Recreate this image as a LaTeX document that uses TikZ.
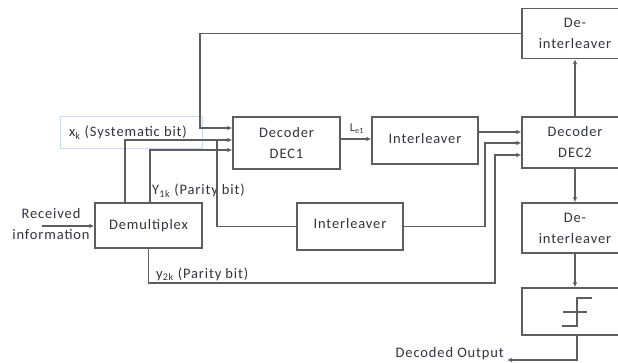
\documentclass[tikz,border=0pt]{standalone}
\usepackage{fontspec}
\setmainfont{Carlito}[LetterSpace=6]
\usetikzlibrary{arrows.meta,calc}
\definecolor{lc}{HTML}{5E5E5E}
\definecolor{tc}{HTML}{33333F}
\definecolor{sysc}{HTML}{C9DAF0}
\begin{document}
\begin{tikzpicture}[x=1pt,y=-1pt,
  box/.style={draw=lc, line width=1.3pt, minimum width=106pt, inner sep=0pt, align=center, text=tc, font=\fontsize{14.5}{21}\selectfont},
  lbl/.style={text=tc, inner sep=0pt, font=\fontsize{14.5}{21}\selectfont},
  ln/.style={draw=lc, line width=1.3pt},
  arr/.style={draw=lc, line width=1.3pt, -{Latex[length=5pt,width=4.5pt]}}]
\useasboundingbox (0,0) rectangle (618,363);
% boxes
\node[box, minimum width=107pt, minimum height=52pt] (dec1) at (286.5,143) {Decoder\\DEC1};
\node[box, minimum height=47pt] (ilv1) at (425,140.5) {\raisebox{5pt}{Interleaver}};
\node[box, minimum height=51pt] (dec2) at (575,142.5) {Decoder\\DEC2};
\node[box, minimum height=50pt] (deint1) at (575,33.5) {De-\\interleaver};
\node[box, minimum height=50pt] (deint2) at (575,228) {De-\\interleaver};
\node[box, minimum height=47pt] (hl) at (575,311.5) {};
\node[box, minimum width=107pt, minimum height=45pt] (demux) at (148.5,225.5) {Demultiplex};
\node[box, minimum height=47pt] (ilv2) at (350,226.5) {\raisebox{6pt}{Interleaver}};
\node[draw=sysc, line width=0.6pt, minimum width=142pt, minimum height=32pt, inner sep=0pt] (sys) at (131,132) {};
\node[lbl, anchor=base] (systxt) at (128,137) {x\textsubscript{k} (Systematic bit)};
% step symbol
\draw[ln] ($(hl.center)+(17,-13.5)$) -- ++(-15,0) -- ++(0,28) -- ++(-15,0);
\draw[ln] ($(hl.center)+(-12,0.5)$) -- ++(24,0);
% labels
\node[lbl, anchor=base west] (y1) at (152,195) {Y\textsubscript{1k} (Parity bit)};
\node[lbl, anchor=base west] (y2) at (156,278) {y\textsubscript{2k} (Parity bit)};
\node[lbl, anchor=base] (le1) at (357,132) {\fontsize{12}{14}\selectfont L\textsubscript{e1}};
\node[lbl, align=center] (recv) at (51,224) {Received\\information};
\node[lbl, anchor=base east] (dtxt) at (504,357) {Decoded Output};
\coordinate (rin) at (42,226);
\coordinate (dout) at (507,360);
\coordinate (j1) at (217,140);
% connectors
\draw[arr] (deint1.west) -| (200,128) -- (dec1.west |- 0,128);
\draw[arr] (demux.north -| 125,0) |- (dec1.west |- 0,140);
\draw[ln] (j1) |- (ilv2.west);
\draw[arr] (demux.north -| 150,0) |- (dec1.west |- 0,150);
\draw[arr] (dec1.east |- 0,139) -- (ilv1.west |- 0,139);
\draw[arr] (ilv1.east |- 0,132) -- (dec2.west |- 0,132);
\draw[arr] (ilv2.east) -| (485,143) -- (dec2.west |- 0,143);
\draw[arr] (demux.south) |- (495,283) |- (dec2.west |- 0,155);
\draw[arr] (dec2.north) -- (deint1.south);
\draw[arr] (dec2.south) -- (deint2.north);
\draw[arr] (deint2.south) -- (hl.north);
\draw[arr] (hl.south -| 577,0) |- (dout);
\draw[arr] (rin) -- (demux.west |- 0,226);
\end{tikzpicture}
\end{document}
